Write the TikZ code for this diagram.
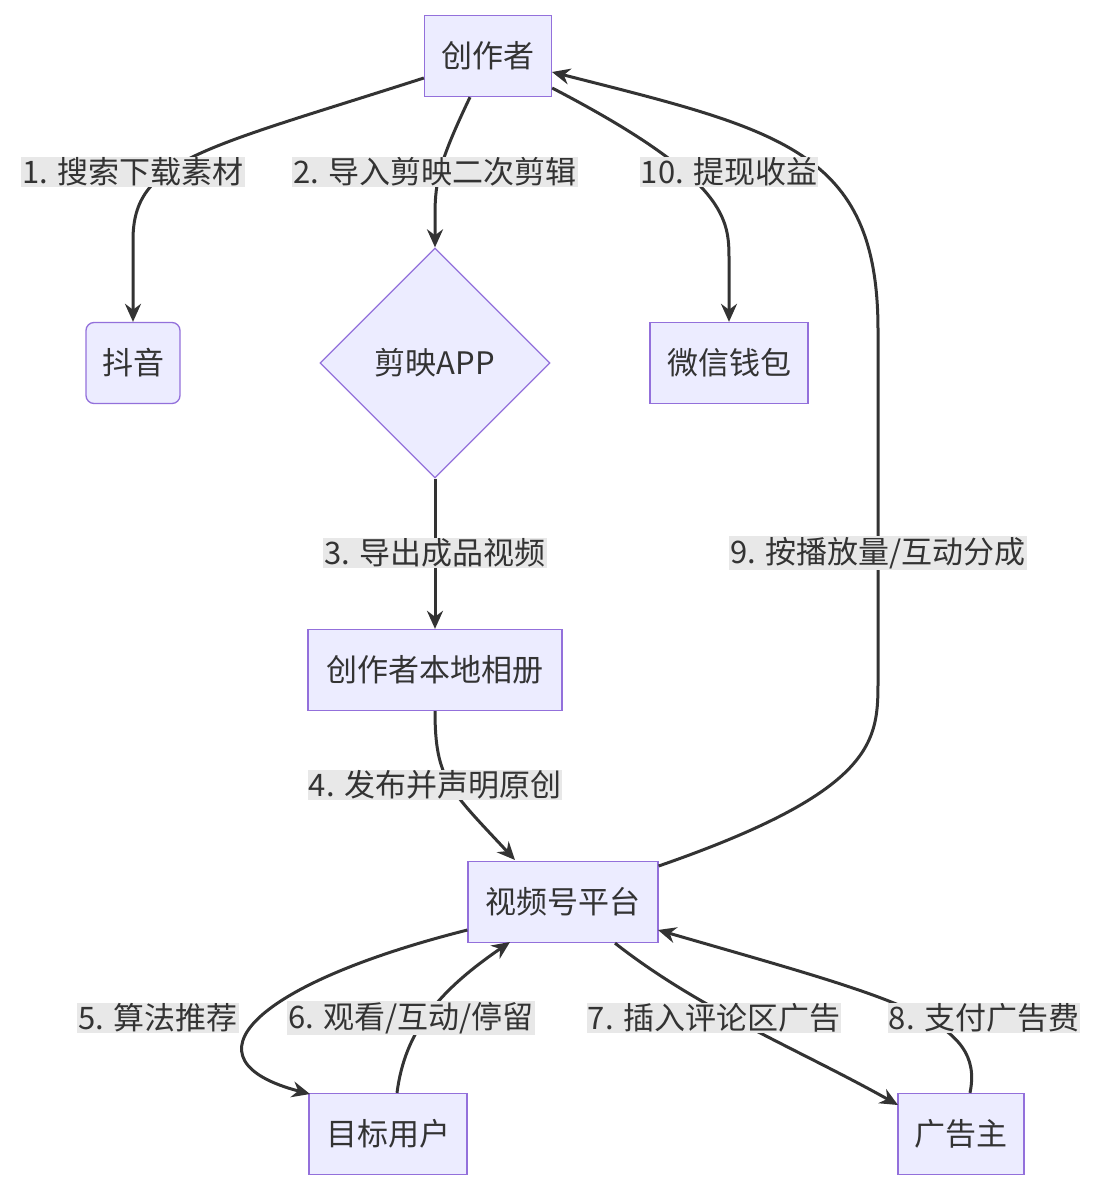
\documentclass[tikz,border=0pt]{standalone}
\usepackage{fontspec}
\setmainfont{Noto Sans CJK SC}
\usetikzlibrary{shapes.geometric,arrows.meta}
\begin{document}
\begin{tikzpicture}[x=1pt,y=-1pt,
 box/.style={draw=mpurple,fill=mfill,line width=1.3pt,minimum height=81pt,inner sep=0pt,font=\fontsize{31}{34}\selectfont,text=mtext},
 rbox/.style={box,rounded corners=8pt},
 lab/.style={fill=lbg,inner sep=1pt,font=\fontsize{31}{34}\selectfont,text=mtext},
 e/.style={draw=ecol,line width=3pt,-{Stealth[length=18pt,width=16pt]}}]
\definecolor{mpurple}{HTML}{9370DB}
\definecolor{mfill}{HTML}{ECECFF}
\definecolor{mtext}{HTML}{333333}
\definecolor{ecol}{HTML}{333333}
\definecolor{lbg}{HTML}{E8E8E8}
\useasboundingbox (0,0) rectangle (1100,1192);
\node[box,minimum width=127pt] (cz) at (488,56) {创作者};
\node[rbox,minimum width=94pt] (dy) at (133,363) {抖音};
\node[diamond,draw=mpurple,fill=mfill,line width=1.3pt,minimum width=230pt,minimum height=230pt,inner sep=0pt,font=\fontsize{31}{34}\selectfont,text=mtext] (jy) at (435,363) {剪映APP};
\node[box,minimum width=158pt] (wx) at (729,363) {微信钱包};
\node[box,minimum width=254pt] (xc) at (435,670) {创作者本地相册};
\node[box,minimum width=190pt] (sp) at (563,902) {视频号平台};
\node[box,minimum width=158pt] (yh) at (388,1134) {目标用户};
\node[box,minimum width=126pt] (gg) at (961,1134) {广告主};
\coordinate (a1) at (425,78);
\draw[e] (cz.west|-a1) .. controls (200,150) and (133,160) .. (133,240) -- (dy.north);
\draw[e] (cz.south-|470,0) .. controls (440,160) and (435,180) .. (435,215) -- (jy.north);
\draw[e] (jy.south) -- (xc.north);
\draw[e] (xc.south) .. controls (435,780) and (450,790) .. (515,860);
\draw[e] (sp.west|-0,930) .. controls (250,985) and (180,1060) .. (310,1094);
\draw[e] (yh.north-|397,0) .. controls (405,1030) and (440,990) .. (510,942);
\draw[e] (sp.south-|615,0) .. controls (700,1010) and (800,1050) .. (898,1105);
\draw[e] (gg.north-|970,0) .. controls (985,1020) and (900,1000) .. (658,930);
\draw[e] (sp.east|-0,866) .. controls (878,790) and (878,740) .. (878,680) -- (878,330) .. controls (878,150) and (780,130) .. (552,72);
\draw[e] (cz.east|-0,88) .. controls (729,180) and (729,220) .. (729,260) -- (wx.north);
\node[lab] at (133,172) {1. 搜索下载素材};
\node[lab] at (435,172) {2. 导入剪映二次剪辑};
\node[lab] at (729,172) {10. 提现收益};
\node[lab] at (435,553) {3. 导出成品视频};
\node[lab] at (878,553) {9. 按播放量/互动分成};
\node[lab] at (435,785) {4. 发布并声明原创};
\node[lab] at (158,1018) {5. 算法推荐};
\node[lab] at (411,1018) {6. 观看/互动/停留};
\node[lab] at (714,1018) {7. 插入评论区广告};
\node[lab] at (984,1018) {8. 支付广告费};
\end{tikzpicture}
\end{document}
